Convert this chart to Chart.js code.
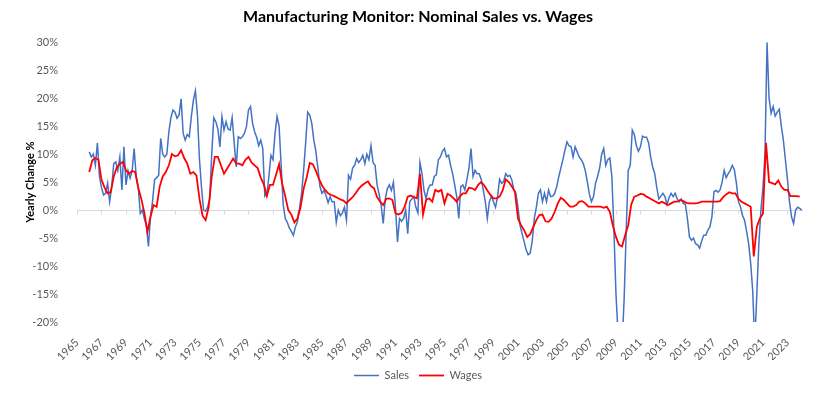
<!DOCTYPE html>
<html>
<head>
<meta charset="utf-8">
<title>Manufacturing Monitor</title>
<script src="https://cdn.jsdelivr.net/npm/chart.js@4.4.1/dist/chart.umd.min.js"></script>
<style>
  body { margin: 0; background: #fff; }
  #wrap { width: 820px; height: 394px; }
</style>
</head>
<body>
<div id="wrap"><canvas id="chart" width="820" height="394"></canvas></div>
<script>
// yearly % change, sales sampled every 2 months, wages every quarter, both from Jan 1966
const salesStart = 1966;
const salesPerYear = 6;
const sales = [
  10.4, 9.5, 10.0, 8.0, 12.0, 6.0, 4.0, 2.7, 3.0, 4.8, 1.5, 4.2,
  8.3, 8.6, 7.1, 9.5, 3.6, 11.3, 4.5, 7.0, 5.7, 7.0, 11.0, 6.0,
  4.0, -0.6, 0.0, -1.5, -2.8, -6.5, -1.2, 1.5, 5.4, 5.8, 6.2, 12.8,
  10.0, 9.5, 10.0, 14.0, 16.5, 17.9, 17.5, 16.4, 17.0, 19.9, 13.7, 12.5,
  13.5, 13.1, 16.7, 19.6, 21.3, 17.0, 9.0, 4.0, 0.0, -0.2, 0.6, 2.0,
  10.0, 16.5, 15.8, 14.5, 11.3, 16.7, 14.3, 15.8, 14.5, 14.3, 16.5, 12.0,
  7.7, 13.1, 12.8, 13.1, 13.7, 14.9, 17.9, 18.5, 15.5, 14.0, 13.0, 11.5,
  12.5, 11.0, 2.5, 3.0, 6.0, 9.8, 9.0, 13.7, 16.7, 15.0, 8.0, 1.0,
  -1.5, -2.2, -3.2, -3.8, -4.5, -3.0, -2.0, 0.3, 3.0, 7.0, 12.0, 17.5,
  17.0, 15.5, 12.5, 10.5, 7.5, 4.2, 3.0, 3.5, 2.6, 1.3, 2.4, 1.5,
  1.5, -2.2, 0.0, -1.0, -0.5, 0.5, -1.8, 6.2, 5.5, 7.5, 8.0, 9.2,
  8.5, 9.0, 9.8, 8.3, 10.0, 9.0, 11.5, 8.5, 8.0, 4.5, 2.8, 0.8,
  -2.4, 2.0, 3.8, 4.5, 3.5, 5.0, 0.5, -5.7, -1.5, -2.0, -1.5, 0.0,
  -4.2, 1.5, 2.0, 2.4, 0.5, -0.5, 8.5, 6.5, 3.5, 2.0, 3.8, 4.5,
  4.5, 6.0, 6.3, 9.0, 9.5, 10.5, 11.0, 9.5, 9.8, 8.0, 6.5, 4.5,
  2.4, -1.5, 4.2, 4.5, 3.6, 5.5, 7.5, 11.0, 6.0, 7.1, 6.5, 6.5,
  5.5, 3.6, 1.5, -1.5, 1.5, 2.5, 1.5, 0.5, 2.4, 5.5, 4.8, 5.1,
  6.5, 6.0, 6.2, 5.4, 3.6, 3.0, 0.5, -2.7, -4.2, -5.6, -7.1, -8.0,
  -7.7, -5.5, -1.5, 0.5, 3.0, 3.6, 1.5, 3.0, 1.5, 3.6, 2.4, 2.5,
  3.0, 4.2, 6.0, 7.5, 9.0, 10.7, 12.2, 11.5, 11.3, 9.5, 11.3, 10.4,
  9.5, 9.0, 8.3, 7.0, 5.0, 2.8, 1.5, 2.4, 4.8, 6.0, 7.5, 10.0,
  11.0, 8.0, 9.0, 9.3, 6.0, -3.6, -14.9, -22.0, -25.0, -24.0, -16.0, -4.0,
  7.1, 8.0, 14.3, 13.5, 11.5, 10.5, 11.3, 13.2, 13.0, 13.0, 12.0, 9.5,
  7.7, 6.5, 4.0, 2.0, 2.5, 3.0, 2.4, 1.0, 2.2, 3.0, 2.4, 3.0,
  2.0, 1.5, 2.0, 1.2, 1.0, -1.5, -4.8, -5.4, -5.0, -6.0, -6.2, -6.8,
  -5.5, -4.5, -4.5, -3.6, -3.0, -1.2, 3.3, 3.5, 3.2, 3.6, 5.0, 7.1,
  5.8, 6.5, 7.1, 8.0, 7.2, 4.8, 1.5, 0.6, -1.0, -1.8, -3.8, -6.0,
  -9.5, -14.5, -24.0, -15.0, -6.0, 0.0, 4.0, 10.0, 30.0, 20.0, 17.3, 18.5,
  16.8, 17.5, 18.0, 15.0, 12.5, 9.0, 5.5, 1.5, -1.2, -2.4, 0.0, 0.5,
  0.3, 0.0
];

const wagesStart = 1966;
const wagesPerYear = 4;
const wages = [
  6.8, 8.9, 9.3, 9.0, 5.4, 4.0, 3.0, 3.2,
  6.0, 7.6, 8.3, 8.6, 7.1, 6.5, 7.0, 6.8,
  4.0, 2.0, -0.5, -3.9, -1.2, 0.9, 0.6, 4.2,
  6.0, 6.8, 8.0, 10.0, 9.6, 9.8, 10.7, 9.3,
  8.3, 6.5, 6.8, 6.2, 2.0, -1.0, -1.8, 0.5,
  6.0, 9.5, 9.5, 8.0, 6.5, 7.4, 8.3, 9.2,
  8.3, 8.3, 8.0, 9.0, 9.5, 8.5, 8.0, 7.5,
  5.8, 4.6, 2.5, 4.5, 4.5, 6.3, 8.2, 4.7,
  2.5, 0.0, -0.8, -2.2, -1.5, 0.5, 3.8, 5.8,
  8.4, 8.2, 7.0, 5.6, 4.4, 3.6, 3.0, 2.7,
  2.5, 2.2, 1.9, 1.7, 1.2, 1.8, 2.3, 3.0,
  3.8, 4.4, 4.8, 5.1, 4.3, 3.9, 2.3, 1.5,
  0.9, 2.0, 2.1, 1.8, -0.6, -0.8, -0.5, 0.6,
  2.4, 2.6, 2.3, 2.1, 6.5, -0.8, 1.8, 2.1,
  1.5, 3.6, 3.3, 3.6, 1.2, 2.9, 2.6, 2.1,
  1.5, 2.4, 3.0, 3.0, 4.0, 3.9, 3.6, 4.5,
  5.0, 4.4, 3.5, 2.7, 2.1, 2.1, 2.4, 3.5,
  5.5, 5.0, 4.2, 3.3, -1.5, -2.7, -3.6, -4.8,
  -4.3, -3.0, -1.8, -0.9, -0.8, -2.0, -2.1, -1.5,
  -0.3, 1.2, 2.2, 1.8, 1.2, 0.6, 0.6, 0.9,
  1.5, 1.6, 1.2, 0.6, 0.6, 0.6, 0.6, 0.6,
  0.4, 0.6, -0.3, -2.8, -4.8, -6.2, -6.5, -4.5,
  -2.7, 1.0, 2.4, 2.6, 2.9, 2.8, 2.4, 2.1,
  1.8, 1.5, 1.2, 1.5, 1.2, 0.9, 1.2, 1.5,
  1.5, 1.8, 1.6, 1.3, 1.2, 1.2, 1.2, 1.3,
  1.5, 1.5, 1.5, 1.5, 1.5, 1.5, 1.6, 2.3,
  2.8, 3.2, 3.0, 3.0, 2.0, 1.5, 1.2, 0.9,
  0.6, -8.3, -3.0, -1.5, -0.6, 12.0, 5.0, 4.8,
  4.6, 5.3, 4.2, 3.6, 3.6, 2.5, 2.5, 2.5,
  2.4
];

const yearTicks = [1965, 1967, 1969, 1971, 1973, 1975, 1977, 1979, 1981, 1983,
  1985, 1987, 1989, 1991, 1993, 1995, 1997, 1999, 2001, 2003, 2005, 2007, 2009,
  2011, 2013, 2015, 2017, 2019, 2021, 2023];

const toPoints = (vals, start, perYear) => vals.map((v, i) => ({ x: start + i / perYear, y: v }));

// excel style axis line at 0% with small ticks under it
const zeroAxis = {
  id: 'zeroAxis',
  beforeDatasetsDraw(chart) {
    const { ctx, scales: { x, y } } = chart;
    const y0 = Math.round(y.getPixelForValue(0)) + 0.5;
    ctx.save();
    ctx.strokeStyle = '#d9d9d9';
    ctx.lineWidth = 1;
    ctx.beginPath();
    ctx.moveTo(x.left, y0);
    ctx.lineTo(x.right, y0);
    yearTicks.forEach(t => {
      const px = Math.round(x.getPixelForValue(t)) + 0.5;
      ctx.moveTo(px, y0);
      ctx.lineTo(px, y0 + 4);
    });
    ctx.stroke();
    ctx.restore();
  }
};

Chart.defaults.font.family = 'Lato, "Liberation Sans", sans-serif';
Chart.defaults.color = '#595959';

new Chart(document.getElementById('chart'), {
  type: 'line',
  data: {
    datasets: [
      {
        label: 'Sales',
        data: toPoints(sales, salesStart, salesPerYear),
        borderColor: '#4472C4',
        backgroundColor: '#4472C4',
        borderWidth: 1.5,
        pointRadius: 0,
        tension: 0,
        order: 2
      },
      {
        label: 'Wages',
        data: toPoints(wages, wagesStart, wagesPerYear),
        borderColor: '#FF0000',
        backgroundColor: '#FF0000',
        borderWidth: 1.8,
        pointRadius: 0,
        tension: 0,
        order: 1
      }
    ]
  },
  options: {
    responsive: false,
    animation: false,
    layout: { padding: { left: 33, right: 17, top: 0, bottom: 3 } },
    plugins: {
      title: {
        display: true,
        text: 'Manufacturing Monitor: Nominal Sales vs. Wages',
        color: '#000',
        font: { size: 16, weight: 'bold' },
        padding: { top: 7, bottom: 16 }
      },
      legend: {
        position: 'bottom',
        labels: {
          usePointStyle: true,
          pointStyle: 'line',
          pointStyleWidth: 25,
          font: { size: 11 },
          padding: 10,
          sort: (a, b) => a.datasetIndex - b.datasetIndex
        }
      },
      tooltip: { enabled: false }
    },
    scales: {
      x: {
        type: 'linear',
        min: 1965,
        max: 2024.27,
        grid: { display: false },
        border: { display: false },
        afterBuildTicks: s => { s.ticks = yearTicks.map(v => ({ value: v })); },
        afterFit: s => { s.height = 38; },
        ticks: {
          autoSkip: false,
          minRotation: 45,
          maxRotation: 45,
          padding: 6,
          font: { size: 11 },
          callback: v => String(v)
        }
      },
      y: {
        min: -20,
        max: 30,
        grid: { display: false },
        border: { display: false },
        afterFit: s => { s.width = 44; },
        ticks: {
          stepSize: 5,
          padding: 11,
          font: { size: 11 },
          callback: v => v + '%'
        },
        title: {
          display: true,
          text: 'Yearly Change %',
          color: '#000',
          font: { size: 11, weight: 'bold' },
          padding: { top: -9, bottom: 0 }
        }
      }
    }
  },
  plugins: [zeroAxis]
});
</script>
</body>
</html>
